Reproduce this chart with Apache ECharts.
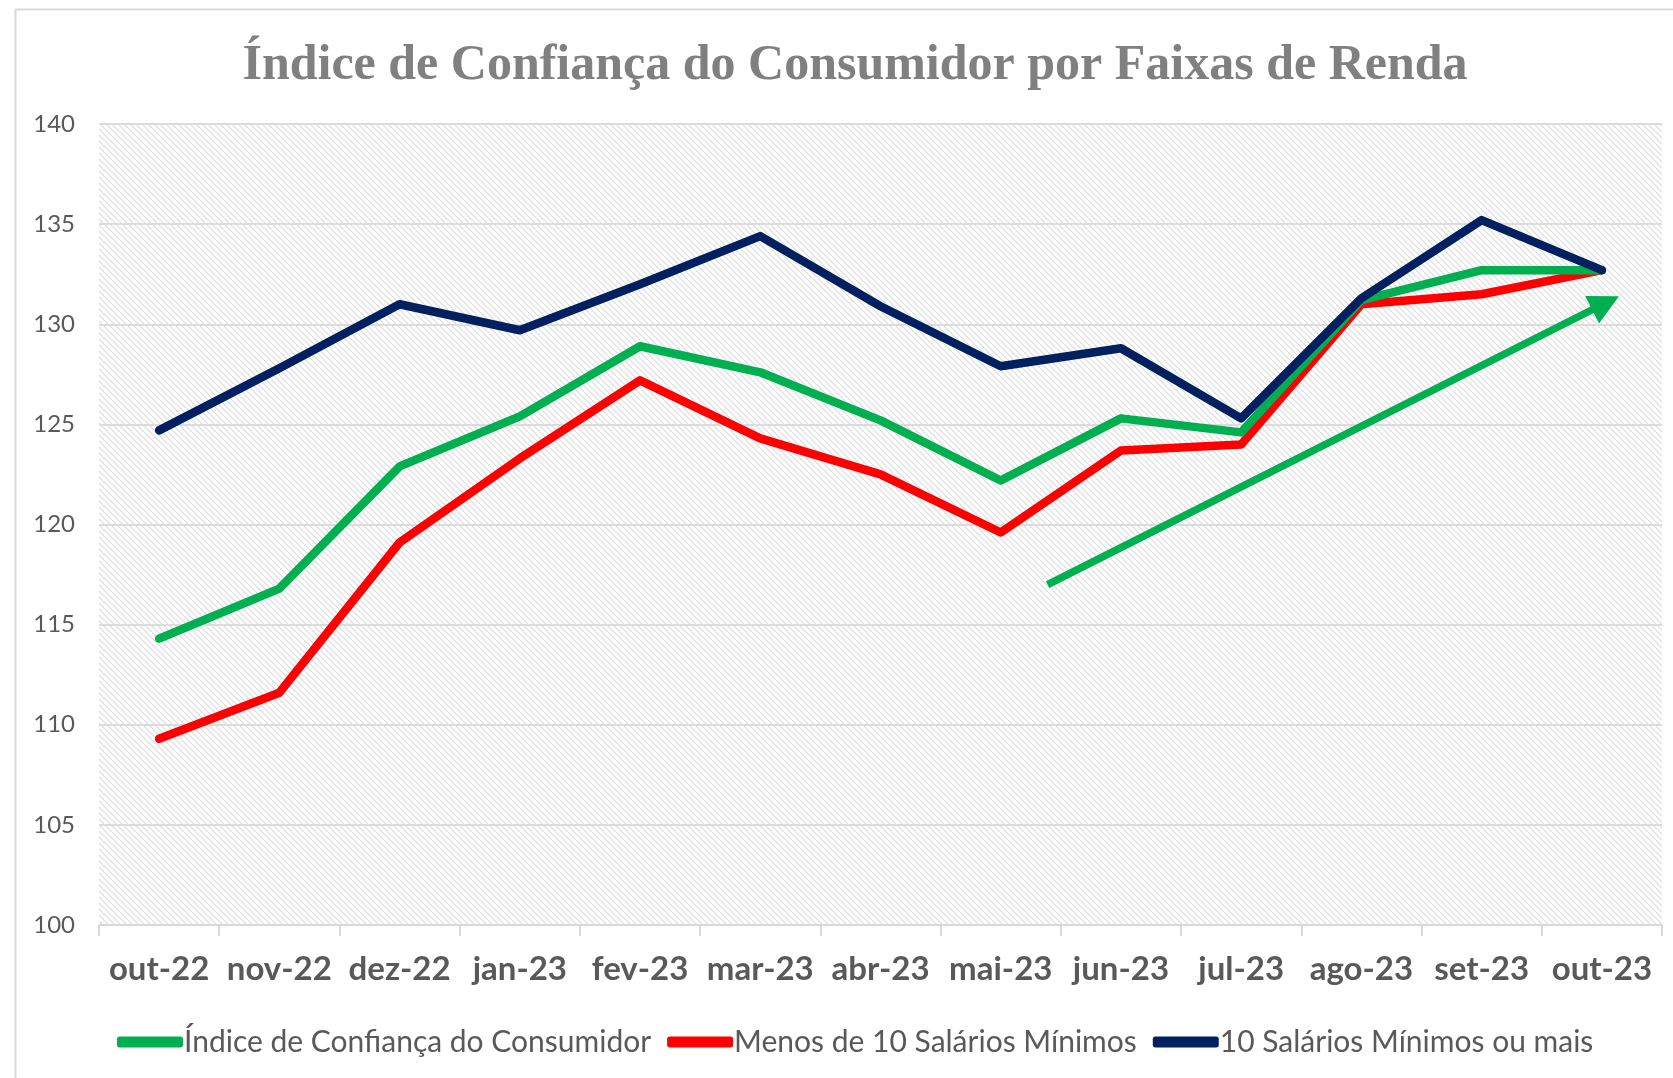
<!DOCTYPE html>
<html>
<head>
<meta charset="utf-8">
<title>Índice de Confiança do Consumidor por Faixas de Renda</title>
<script src="https://cdn.jsdelivr.net/npm/echarts@6/dist/echarts.min.js"></script>
<style>
  html, body { margin: 0; padding: 0; background: #ffffff; }
  #chart { width: 1673px; height: 1078px; }
</style>
</head>
<body>
<div id="chart"></div>
<script>
// Months shown on the category axis
const months = ['out-22', 'nov-22', 'dez-22', 'jan-23', 'fev-23', 'mar-23', 'abr-23',
                'mai-23', 'jun-23', 'jul-23', 'ago-23', 'set-23', 'out-23'];

// Consumer confidence index, overall and by income band
const iccTotal   = [114.3, 116.8, 122.9, 125.4, 128.9, 127.6, 125.2, 122.2, 125.3, 124.6, 131.2, 132.7, 132.7];
const menos10SM  = [109.3, 111.6, 119.1, 123.3, 127.2, 124.3, 122.5, 119.6, 123.7, 124.0, 131.0, 131.5, 132.7];
const mais10SM   = [124.7, 127.8, 131.0, 129.7, 132.0, 134.4, 130.9, 127.9, 128.8, 125.3, 131.3, 135.2, 132.7];

// Trend arrow: [month position, index value] at its tail and head
const trendArrow = [[7.39, 117.0], [12.03, 131.06]];

const seriesNames = ['Índice de Confiança do Consumidor', 'Menos de 10 Salários Mínimos', '10 Salários Mínimos ou mais'];
const seriesColors = ['#00b050', '#ff0000', '#002060'];

// Diagonal hatch tile used as the plot background
function hatchTile() {
  const size = 6;
  const c = document.createElement('canvas');
  c.width = size; c.height = size;
  const ctx = c.getContext('2d');
  ctx.fillStyle = '#ffffff';
  ctx.fillRect(0, 0, size, size);
  ctx.strokeStyle = '#dcdcdc';
  ctx.lineWidth = 1.2;
  ctx.beginPath();
  ctx.moveTo(-1, -1); ctx.lineTo(size + 1, size + 1);
  ctx.moveTo(-1, size - 1); ctx.lineTo(1, size + 1);
  ctx.moveTo(size - 1, -1); ctx.lineTo(size + 1, 1);
  ctx.stroke();
  return c;
}

const chart = echarts.init(document.getElementById('chart'), null, { renderer: 'canvas' });

// Draw order: navy on top, then green, then red
const seriesZ = [5, 4, 6];

const lineSeries = [iccTotal, menos10SM, mais10SM].map((vals, i) => ({
  name: seriesNames[i],
  type: 'line',
  data: vals,
  showSymbol: false,
  symbol: 'none',
  z: seriesZ[i],
  lineStyle: { color: seriesColors[i], width: 8.5, cap: 'round', join: 'round' },
  itemStyle: { color: seriesColors[i] },
  emphasis: { disabled: true }
}));

const option = {
  backgroundColor: '#ffffff',
  animation: false,
  title: {
    text: 'Índice de Confiança do Consumidor por Faixas de Renda',
    left: 850,
    textAlign: 'center',
    top: 36,
    textStyle: {
      fontFamily: 'Liberation Serif',
      fontWeight: 'bold',
      fontSize: 50,
      color: '#808080'
    }
  },
  legend: {
    data: seriesNames,
    left: 112,
    top: 1022,
    itemWidth: 66,
    itemHeight: 11,
    itemGap: 16,
    icon: 'roundRect',
    textStyle: { fontFamily: 'Lato', fontSize: 30, color: '#595959', padding: [0, 0, 0, -4] }
  },
  grid: {
    left: 99,
    right: 11,
    top: 124,
    bottom: 153,
    show: true,
    borderWidth: 0,
    backgroundColor: { image: hatchTile(), repeat: 'repeat' }
  },
  xAxis: [{
    type: 'category',
    data: months,
    boundaryGap: true,
    axisLine: { lineStyle: { color: '#d9d9d9', width: 2 } },
    axisTick: { show: true, length: 11, lineStyle: { color: '#d9d9d9', width: 2 } },
    axisLabel: {
      interval: 0,
      fontFamily: 'Lato',
      fontWeight: 'bold',
      fontSize: 33,
      color: '#595959',
      margin: 28
    },
    splitLine: { show: false }
  }, {
    type: 'value',
    min: -0.5,
    max: 12.5,
    show: false
  }],
  yAxis: {
    type: 'value',
    min: 100,
    max: 140,
    interval: 5,
    axisLine: { show: false },
    axisTick: { show: false },
    axisLabel: { fontFamily: 'Lato', fontSize: 24, color: '#595959', margin: 24 },
    splitLine: { lineStyle: { color: '#dcdcdc', width: 2 } }
  },
  graphic: [{
    type: 'rect',
    left: 13,
    top: 7,
    shape: { width: 1700, height: 1100 },
    style: { fill: 'none', stroke: '#d9d9d9', lineWidth: 2 },
    silent: true,
    z: -1
  }],
  series: [
    ...lineSeries,
    {
      name: 'tendência',
      type: 'line',
      xAxisIndex: 1,
      data: [],
      symbol: 'none',
      z: 7,
      markLine: {
        silent: true,
        symbol: ['none', 'triangle'],
        symbolSize: [31, 30],
        label: { show: false },
        lineStyle: { color: '#00b050', width: 7.5, type: 'solid', cap: 'butt' },
        itemStyle: { color: '#00b050' },
        emphasis: { disabled: true },
        data: [[
          { coord: trendArrow[0] },
          { coord: trendArrow[1] }
        ]]
      }
    }
  ]
};

chart.setOption(option);
</script>
</body>
</html>
